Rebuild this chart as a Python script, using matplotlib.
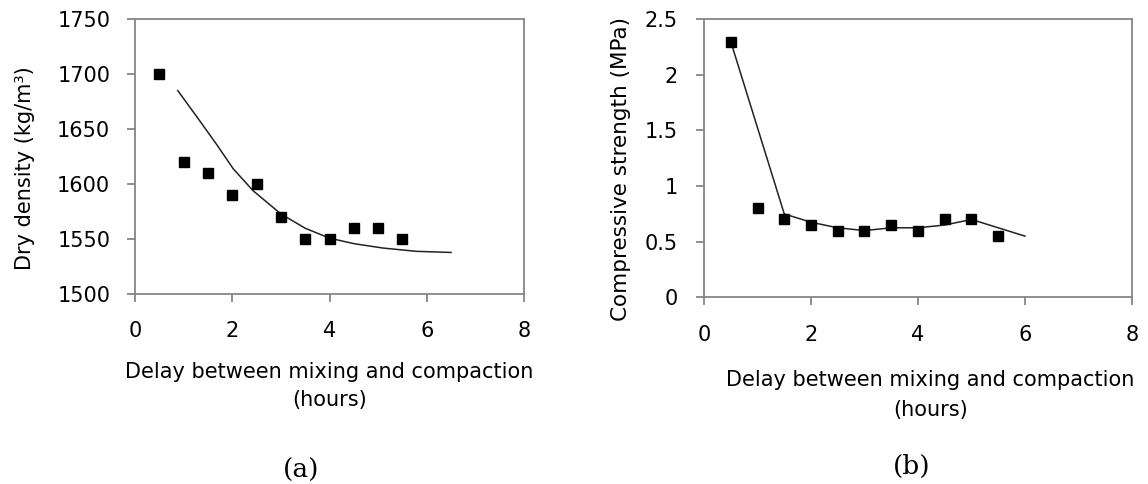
import matplotlib
matplotlib.use("Agg")
import matplotlib.pyplot as plt

# (a) dry density vs delay
delay_a = [0.5, 1.0, 1.5, 2.0, 2.5, 3.0, 3.5, 4.0, 4.5, 5.0, 5.5]
density = [1700, 1620, 1610, 1590, 1600, 1570, 1550, 1550, 1560, 1560, 1550]
# trend curve
trend_x = [0.88, 1.34, 1.68, 2.02, 2.43, 3.0, 3.5, 4.0, 4.5, 5.1, 5.79, 6.5]
trend_y = [1685, 1657, 1636, 1614, 1594, 1573, 1560, 1551, 1546, 1542, 1539, 1538]

# (b) compressive strength vs delay
delay_b = [0.5, 1.0, 1.5, 2.0, 2.5, 3.0, 3.5, 4.0, 4.5, 5.0, 5.5]
strength = [2.3, 0.8, 0.7, 0.65, 0.6, 0.6, 0.65, 0.6, 0.7, 0.7, 0.55]
line_x = [0.5, 1.5, 2.0, 2.5, 3.0, 3.5, 4.0, 4.5, 5.0, 6.0]
line_y = [2.3, 0.75, 0.675, 0.625, 0.6, 0.625, 0.625, 0.65, 0.7, 0.55]

xticks = [0, 2, 4, 6, 8]

plt.rcParams['font.family'] = ['DejaVu Sans']
W, H = 1148, 484
fig = plt.figure(figsize=(W / 100, H / 100), dpi=100)

def px(x0, y0, x1, y1):
    return [x0 / W, 1 - y1 / H, (x1 - x0) / W, (y1 - y0) / H]

ax1 = fig.add_axes(px(135, 19, 524, 294.3))
ax2 = fig.add_axes(px(704, 19.3, 1132, 297.3))

gray = '#868686'
for ax, xpad, ypad in [(ax1, 13.3, 12), (ax2, 14, 13)]:
    for s in ax.spines.values():
        s.set_color(gray)
        s.set_linewidth(1.3)
    ax.tick_params(direction='out', length=5.8, width=1.3, color=gray,
                   labelsize=15, labelcolor='black')
    ax.tick_params(axis='x', pad=xpad)
    ax.tick_params(axis='y', pad=ypad)
    ax.set_xlim(0, 8)
    ax.set_xticks(xticks)

ax1.plot(delay_a, density, 's', color='black', markersize=7.2, zorder=3)
ax1.plot(trend_x, trend_y, '-', color='#222222', lw=1.1)
ax1.set_ylim(1500, 1750)
ax1.set_yticks([1500, 1550, 1600, 1650, 1700, 1750])

ax2.plot(delay_b, strength, 's', color='black', markersize=7.2, zorder=3)
ax2.plot(line_x, line_y, '-', color='#222222', lw=1.1)
ax2.set_ylim(0, 2.5)
ax2.set_yticks([0, 0.5, 1, 1.5, 2, 2.5])
ax2.set_yticklabels(['0', '0.5', '1', '1.5', '2', '2.5'])

def ftext(x, y, s, **kw):
    fig.text(x / W, 1 - y / H, s, ha='center', va='center', **kw)

ftext(25, 168.5, 'Dry density (kg/m³)', rotation=90, fontsize=15)
ftext(621, 169, 'Compressive strength (MPa)', rotation=90, fontsize=15.5)

ftext(329.5, 372, 'Delay between mixing and compaction', fontsize=15)
ftext(329.5, 400, '(hours)', fontsize=15)
ftext(930, 380, 'Delay between mixing and compaction', fontsize=15)
ftext(931, 410, '(hours)', fontsize=15)

ftext(301.5, 470, '(a)', fontsize=19, family='DejaVu Serif')
ftext(912, 466, '(b)', fontsize=19, family='DejaVu Serif')

fig.savefig('out.png', dpi=100)
